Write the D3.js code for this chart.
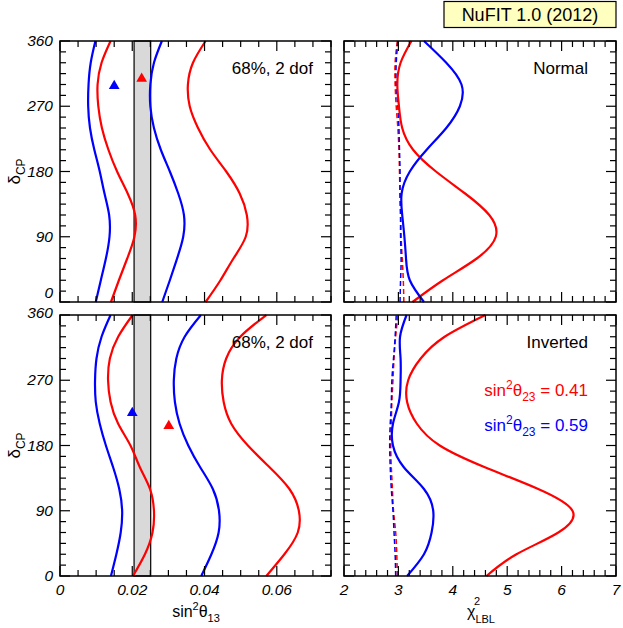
<!DOCTYPE html>
<html>
<head>
<meta charset="utf-8">
<script src="https://cdn.jsdelivr.net/npm/d3@7"></script>
<style>
  body { margin: 0; background: #fff; }
  svg { font-family: "Liberation Sans", Arial, sans-serif; }
</style>
</head>
<body>
<svg width="623" height="628"></svg>
<script>
// delta_CP grid (degrees) shared by all curves
const delta = [0, 30, 60, 90, 120, 150, 180, 210, 240, 270, 300, 330, 360];

// left panels: sin^2 theta13 boundaries of the 68% region
const normBlueLo = [0.0099, 0.0113, 0.0127, 0.0137, 0.0136, 0.0123, 0.0110, 0.0095, 0.0083, 0.0078, 0.0079, 0.0085, 0.0098];
const normRedLo  = [0.0141, 0.0163, 0.0186, 0.0206, 0.0208, 0.0187, 0.0158, 0.0134, 0.0116, 0.0106, 0.0104, 0.0115, 0.0140];
const normBlueHi = [0.0283, 0.0304, 0.0324, 0.0341, 0.0343, 0.0327, 0.0304, 0.0279, 0.0260, 0.0250, 0.0250, 0.0260, 0.0282];
const normRedHi  = [0.0403, 0.0444, 0.0480, 0.0514, 0.0517, 0.0497, 0.0460, 0.0416, 0.0382, 0.0359, 0.0354, 0.0368, 0.0403];

const invBlueLo = [0.0141, 0.0156, 0.0168, 0.0172, 0.0164, 0.0147, 0.0127, 0.0110, 0.0099, 0.0097, 0.0101, 0.0115, 0.0140];
const invRedLo  = [0.0202, 0.0235, 0.0256, 0.0260, 0.0249, 0.0221, 0.0195, 0.0161, 0.0140, 0.0133, 0.0138, 0.0161, 0.0201];
const invBlueHi = [0.0391, 0.0419, 0.0439, 0.0440, 0.0423, 0.0388, 0.0355, 0.0331, 0.0318, 0.0315, 0.0322, 0.0345, 0.0390];
const invRedHi  = [0.0571, 0.0621, 0.0658, 0.0661, 0.0635, 0.0580, 0.0520, 0.0474, 0.0453, 0.0448, 0.0460, 0.0499, 0.0571];

// best-fit points [sin^2 theta13, delta]
const normBest = { blue: [0.0150, 298], red: [0.0226, 308] };
const invBest  = { blue: [0.0200, 225], red: [0.0301, 207] };

// reactor band on sin^2 theta13
const reactorBand = [0.0205, 0.0251];

// right panels: chi^2_LBL vs delta
const normChiRed      = [3.26, 3.82, 4.44, 4.79, 4.67, 4.22, 3.69, 3.27, 3.07, 3.01, 2.98, 3.04, 3.24];
const normChiBlue     = [3.47, 3.21, 3.14, 3.11, 3.07, 3.06, 3.21, 3.52, 3.88, 4.13, 4.16, 3.88, 3.47];
const normChiRedDash  = [3.10, 3.09, 3.07, 3.05, 3.04, 3.03, 3.02, 3.01, 2.99, 2.96, 2.94, 2.94, 2.98];
const normChiBlueDash = [3.03, 3.04, 3.05, 3.04, 3.04, 3.03, 3.03, 3.02, 3.01, 2.99, 2.96, 2.96, 2.99];

const invChiRed      = [4.62, 5.17, 5.94, 6.20, 5.57, 4.59, 3.76, 3.34, 3.16, 3.18, 3.41, 3.85, 4.60];
const invChiBlue     = [3.16, 3.47, 3.61, 3.64, 3.47, 3.10, 2.90, 2.90, 3.01, 3.04, 3.04, 3.03, 3.15];
const invChiRedDash  = [2.98, 2.97, 2.95, 2.91, 2.89, 2.87, 2.86, 2.87, 2.88, 2.90, 2.92, 2.95, 2.99];
const invChiBlueDash = [2.95, 2.94, 2.92, 2.90, 2.87, 2.85, 2.84, 2.85, 2.87, 2.88, 2.91, 2.94, 2.96];

const yTicks = [0, 90, 180, 270, 360];
const xTicksLeft = [0, 0.02, 0.04, 0.06];
const xTicksRight = [2, 3, 4, 5, 6, 7];

const RED = "#ff0000", BLUE = "#0000ff";

const svg = d3.select("svg");

const xLeft = d3.scaleLinear().domain([0, 0.075]).range([60, 331]);
const xRight = d3.scaleLinear().domain([2, 7]).range([344, 616]);
const yTop = d3.scaleLinear().domain([0, 360]).range([302, 41]);
const yBot = d3.scaleLinear().domain([0, 360]).range([576, 315]);

function range(a, b, step) {
  const out = [];
  for (let v = a; v <= b + step * 1e-6; v += step) out.push(+v.toFixed(6));
  return out;
}

// yShift: per-label baseline offsets so the touching 0 / 360 labels don't collide
function frame(x, y, xMajor, xMinorStep, showX, showY, yShift) {
  const g = svg.append("g");
  const [x0, x1] = x.range();
  const [y0, y1] = y.range(); // y0 bottom, y1 top
  const xd = x.domain(), yd = y.domain();
  const majLen = 10, minLen = 6;
  const ticks = g.append("g").attr("stroke", "#000").attr("stroke-width", 1.2);

  range(xd[0], xd[1], xMinorStep).forEach(v => {
    const major = xMajor.some(m => Math.abs(m - v) < 1e-9);
    const len = major ? majLen : minLen;
    ticks.append("line").attr("x1", x(v)).attr("x2", x(v)).attr("y1", y0).attr("y2", y0 - len);
    ticks.append("line").attr("x1", x(v)).attr("x2", x(v)).attr("y1", y1).attr("y2", y1 + len);
  });
  range(yd[0], yd[1], 15).forEach(v => {
    const major = v % 90 === 0;
    const len = major ? majLen : minLen;
    ticks.append("line").attr("y1", y(v)).attr("y2", y(v)).attr("x1", x0).attr("x2", x0 + len);
    ticks.append("line").attr("y1", y(v)).attr("y2", y(v)).attr("x1", x1).attr("x2", x1 - len);
  });

  g.append("rect")
    .attr("x", x0).attr("y", y1)
    .attr("width", x1 - x0).attr("height", y0 - y1)
    .attr("fill", "none").attr("stroke", "#000").attr("stroke-width", 1.5);

  if (showY) {
    g.selectAll("text.yl").data(yTicks).join("text")
      .attr("x", x0 - 7).attr("y", d => y(d) + ((yShift && yShift[d] != null) ? yShift[d] : 5))
      .attr("text-anchor", "end")
      .attr("font-size", 15.5).attr("font-style", "italic")
      .text(d => d);
  }
  if (showX) {
    g.selectAll("text.xl").data(xMajor).join("text")
      .attr("x", d => x(d)).attr("y", y0 + 19)
      .attr("text-anchor", "middle")
      .attr("font-size", 15.5).attr("font-style", "italic")
      .text(d => d);
  }
  return g;
}

function curve(x, y, xs, color, dashed) {
  const pts = xs.map((v, i) => [x(v), y(delta[i])]);
  svg.append("path")
    .attr("d", d3.line().curve(d3.curveNatural)(pts))
    .attr("fill", "none")
    .attr("stroke", color)
    .attr("stroke-width", dashed ? 1.5 : 2.2)
    .attr("stroke-dasharray", dashed ? "5,3" : null);
}

function band(y) {
  const [y0, y1] = y.range();
  svg.append("rect")
    .attr("x", xLeft(reactorBand[0])).attr("y", y1)
    .attr("width", xLeft(reactorBand[1]) - xLeft(reactorBand[0]))
    .attr("height", y0 - y1)
    .attr("fill", "#d9d9d9").attr("stroke", "#000").attr("stroke-width", 1.2);
}

function tri(y, p, color) {
  svg.append("path")
    .attr("d", d3.symbol(d3.symbolTriangle, 50)())
    .attr("transform", `translate(${xLeft(p[0])},${y(p[1])})`)
    .attr("fill", color);
}

// ---- left panels
band(yTop);
band(yBot);

curve(xLeft, yTop, normBlueLo, BLUE);
curve(xLeft, yTop, normRedLo, RED);
curve(xLeft, yTop, normBlueHi, BLUE);
curve(xLeft, yTop, normRedHi, RED);
tri(yTop, normBest.blue, BLUE);
tri(yTop, normBest.red, RED);

curve(xLeft, yBot, invBlueLo, BLUE);
curve(xLeft, yBot, invRedLo, RED);
curve(xLeft, yBot, invBlueHi, BLUE);
curve(xLeft, yBot, invRedHi, RED);
tri(yBot, invBest.blue, BLUE);
tri(yBot, invBest.red, RED);

// ---- right panels
curve(xRight, yTop, normChiRedDash, RED, true);
curve(xRight, yTop, normChiBlueDash, BLUE, true);
curve(xRight, yTop, normChiRed, RED);
curve(xRight, yTop, normChiBlue, BLUE);

curve(xRight, yBot, invChiRedDash, RED, true);
curve(xRight, yBot, invChiBlueDash, BLUE, true);
curve(xRight, yBot, invChiRed, RED);
curve(xRight, yBot, invChiBlue, BLUE);

frame(xLeft, yTop, xTicksLeft, 0.005, false, true, { 0: -4 });
frame(xLeft, yBot, xTicksLeft, 0.005, true, true, { 360: 3 });
frame(xRight, yTop, xTicksRight, 0.2, false, false);
frame(xRight, yBot, xTicksRight, 0.2, true, false);

// ---- panel labels
const lbl = (x, y, t, color, anchor) => svg.append("text")
  .attr("x", x).attr("y", y).attr("font-size", 17)
  .attr("text-anchor", anchor || "end").attr("fill", color || "#000").text(t);

lbl(313, 74, "68%, 2 dof");
lbl(313, 348, "68%, 2 dof");
lbl(588, 74, "Normal");
lbl(588, 348, "Inverted");

function sinLabel(x, y, sub, tail, color, anchor, size) {
  const fs = size || 17, fsm = Math.round(fs * 0.7);
  const t = svg.append("text").attr("x", x).attr("y", y)
    .attr("font-size", fs).attr("fill", color).attr("text-anchor", anchor || "end");
  t.append("tspan").text("sin");
  t.append("tspan").attr("dy", -7).attr("font-size", fsm).text("2");
  t.append("tspan").attr("dy", 7).text("θ");
  t.append("tspan").attr("dy", 5).attr("font-size", fsm).text(sub);
  if (tail) t.append("tspan").attr("dy", -5).text(tail);
  return t;
}

sinLabel(588, 396, "23", " = 0.41", RED);
sinLabel(588, 431, "23", " = 0.59", BLUE);

// axis titles
sinLabel(196, 617, "13", null, "#000", "middle", 16);

const chi = svg.append("text").attr("x", 481).attr("y", 617)
  .attr("font-size", 16).attr("text-anchor", "middle");
chi.append("tspan").text("χ");
chi.append("tspan").attr("dy", 6).attr("font-size", 11).text("LBL");
svg.append("text").attr("x", 474).attr("y", 605).attr("font-size", 11).text("2");

[yTop, yBot].forEach(y => {
  const cy = (y.range()[0] + y.range()[1]) / 2;
  const t = svg.append("text")
    .attr("transform", `translate(20,${cy}) rotate(-90)`)
    .attr("font-size", 17).attr("text-anchor", "middle");
  t.append("tspan").text("δ");
  t.append("tspan").attr("dy", 5).attr("font-size", 12).text("CP");
});

// title box
svg.append("rect")
  .attr("x", 444).attr("y", 1.5).attr("width", 172).attr("height", 26)
  .attr("fill", "#ffffc0").attr("stroke", "#000").attr("stroke-width", 1.2);
svg.append("text").attr("x", 530).attr("y", 21)
  .attr("font-size", 18).attr("text-anchor", "middle").text("NuFIT 1.0 (2012)");
</script>
</body>
</html>
